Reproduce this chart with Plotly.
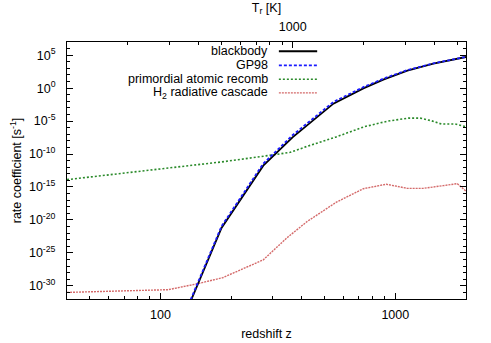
import math
import plotly.graph_objects as go

# ---------------- data ----------------
z_bb = [120, 182, 274, 365, 545, 731, 889, 1125, 1452, 2000]
rate_bb = [3e-37, 6.2e-22, 1.7e-12, 3.4e-8, 4.4e-3, 0.91, 19, 450, 5100, 5.3e4]

z_gp = [120, 182, 274, 365, 545, 731, 889, 1125, 1452, 2000]
rate_gp = [5e-37, 1.1e-21, 3.5e-12, 7e-8, 8e-3, 1.4, 27, 560, 5800, 5.5e4]

z_rec = [40, 100, 182, 300, 357, 422, 556, 738, 925, 1135, 1276, 1422, 1570, 1800, 2000]
rate_rec = [1.3e-14, 5e-13, 6.3e-12, 7.2e-11, 1.8e-10, 1.5e-9, 3.6e-8, 1.4e-6,
            9.5e-6, 2.8e-5, 2.8e-5, 1.15e-5, 3.6e-6, 3.6e-6, 1.4e-6]

z_h2 = [40, 108, 144, 184, 274, 347, 422, 561, 731, 916, 1125, 1315, 1600, 1837, 2000]
rate_h2 = [1.0e-31, 2.6e-31, 2.1e-30, 1.7e-29, 8.7e-27, 2.2e-23, 6e-21, 4.9e-18,
           5.5e-16, 2.6e-15, 6.2e-16, 6.2e-16, 1.6e-15, 3.2e-15, 2.3e-16]

series_names = ["blackbody", "GP98", "primordial atomic recomb", "H<sub>2</sub> radiative cascade"]

x_major = [100, 1000]
x_major_text = ["100", "1000"]
x_minor = [40, 50, 60, 70, 80, 90, 200, 300, 400, 500, 600, 700, 800, 900, 2000]

y_exponents = [5, 0, -5, -10, -15, -20, -25, -30]
y_minor_exponents = list(range(-32, 8))

T_major = [1000]
T_minor = [200, 300, 400, 500, 600, 700, 800, 900, 2000, 3000, 4000, 5000]
T_CMB0 = 2.725

x_range = [40, 2000]
y_range_exp = [-32, 7]

# ---------------- styles ----------------
FONT = "Liberation Sans, Arial, sans-serif"
FS = 12.5
styles = [
    dict(color="#000000", width=1.8, dash="solid"),
    dict(color="#1a1aff", width=1.8, dash="3px,2px"),
    dict(color="#2a8a2a", width=1.6, dash="2px,2px"),
    dict(color="#d46a6a", width=1.4, dash="2px,1px"),
]

fig = go.Figure()
datasets = [(z_bb, rate_bb), (z_gp, rate_gp), (z_rec, rate_rec), (z_h2, rate_h2)]
order = [2, 3, 0, 1]
for i in order:
    zx, ry = datasets[i]
    fig.add_trace(go.Scatter(x=zx, y=ry, mode="lines", name=series_names[i],
                             line=styles[i], showlegend=False, hoverinfo="skip"))

# invisible trace to carry the top (temperature) axis
fig.add_trace(go.Scatter(x=x_range, y=[None, None], xaxis="x2", yaxis="y",
                         mode="lines", showlegend=False, hoverinfo="skip"))

lx = [math.log10(v) for v in x_range]


def T_to_z(T):
    return T / T_CMB0 - 1


fig.update_layout(
    width=491, height=343,
    margin=dict(l=67, r=25, t=42, b=44, autoexpand=False),
    paper_bgcolor="white", plot_bgcolor="white",
    font=dict(family=FONT, size=FS, color="black"),
    xaxis=dict(
        type="log", range=lx, automargin=False,
        tickmode="array", tickvals=x_major, ticktext=x_major_text,
        ticks="inside", ticklen=6, tickcolor="black", tickwidth=1,
        minor=dict(tickmode="array", tickvals=x_minor, ticks="inside",
                   ticklen=3, tickcolor="black", showgrid=False),
        showline=True, linecolor="black", linewidth=1, mirror=True,
        showgrid=False, zeroline=False,
        title=dict(text="redshift z", standoff=8, font=dict(size=FS)),
        tickfont=dict(size=FS), ticklabelstandoff=4,
    ),
    xaxis2=dict(
        type="log", range=lx, overlaying="x", side="top", automargin=False,
        tickmode="array", tickvals=[T_to_z(t) for t in T_major],
        ticktext=[str(t) for t in T_major],
        ticks="inside", ticklen=6, tickcolor="black",
        minor=dict(tickmode="array", tickvals=[T_to_z(t) for t in T_minor],
                   ticks="inside", ticklen=3, tickcolor="black", showgrid=False),
        showline=False, showgrid=False, zeroline=False,
        title=dict(text="T<sub>r</sub> [K]", standoff=4, font=dict(size=FS)),
        tickfont=dict(size=FS), ticklabelstandoff=8,
    ),
    yaxis=dict(
        type="log", range=y_range_exp, automargin=False,
        tickmode="array", tickvals=[10.0 ** e for e in y_exponents],
        ticktext=["10<sup>%d</sup>" % e for e in y_exponents],
        ticks="inside", ticklen=6, tickcolor="black",
        minor=dict(tickmode="array", tickvals=[10.0 ** e for e in y_minor_exponents],
                   ticks="inside", ticklen=3, tickcolor="black", showgrid=False),
        showline=True, linecolor="black", linewidth=1, mirror="ticks",
        showgrid=False, zeroline=False,
        title=dict(text="rate coefficient [s<sup>-1</sup>]", standoff=4, font=dict(size=FS)),
        tickfont=dict(size=FS), ticklabelstandoff=8,
    ),
)

# gnuplot-style key: text right-aligned, line sample to the right
key_y = [0.964, 0.909, 0.855, 0.802]
for i, name in enumerate(series_names):
    fig.add_annotation(xref="x domain", yref="y domain", x=0.509, y=key_y[i],
                       text=name, showarrow=False, xanchor="right", yanchor="middle",
                       font=dict(size=FS, family=FONT, color="black"))
    fig.add_shape(type="line", xref="x domain", yref="y domain",
                  x0=0.531, x1=0.627, y0=key_y[i], y1=key_y[i],
                  line=dict(color=styles[i]["color"], width=styles[i]["width"],
                            dash=styles[i]["dash"]))

fig.write_html("out.html", config={"displayModeBar": False},
               post_script="document.body.style.margin='0';document.body.style.padding='0';")
